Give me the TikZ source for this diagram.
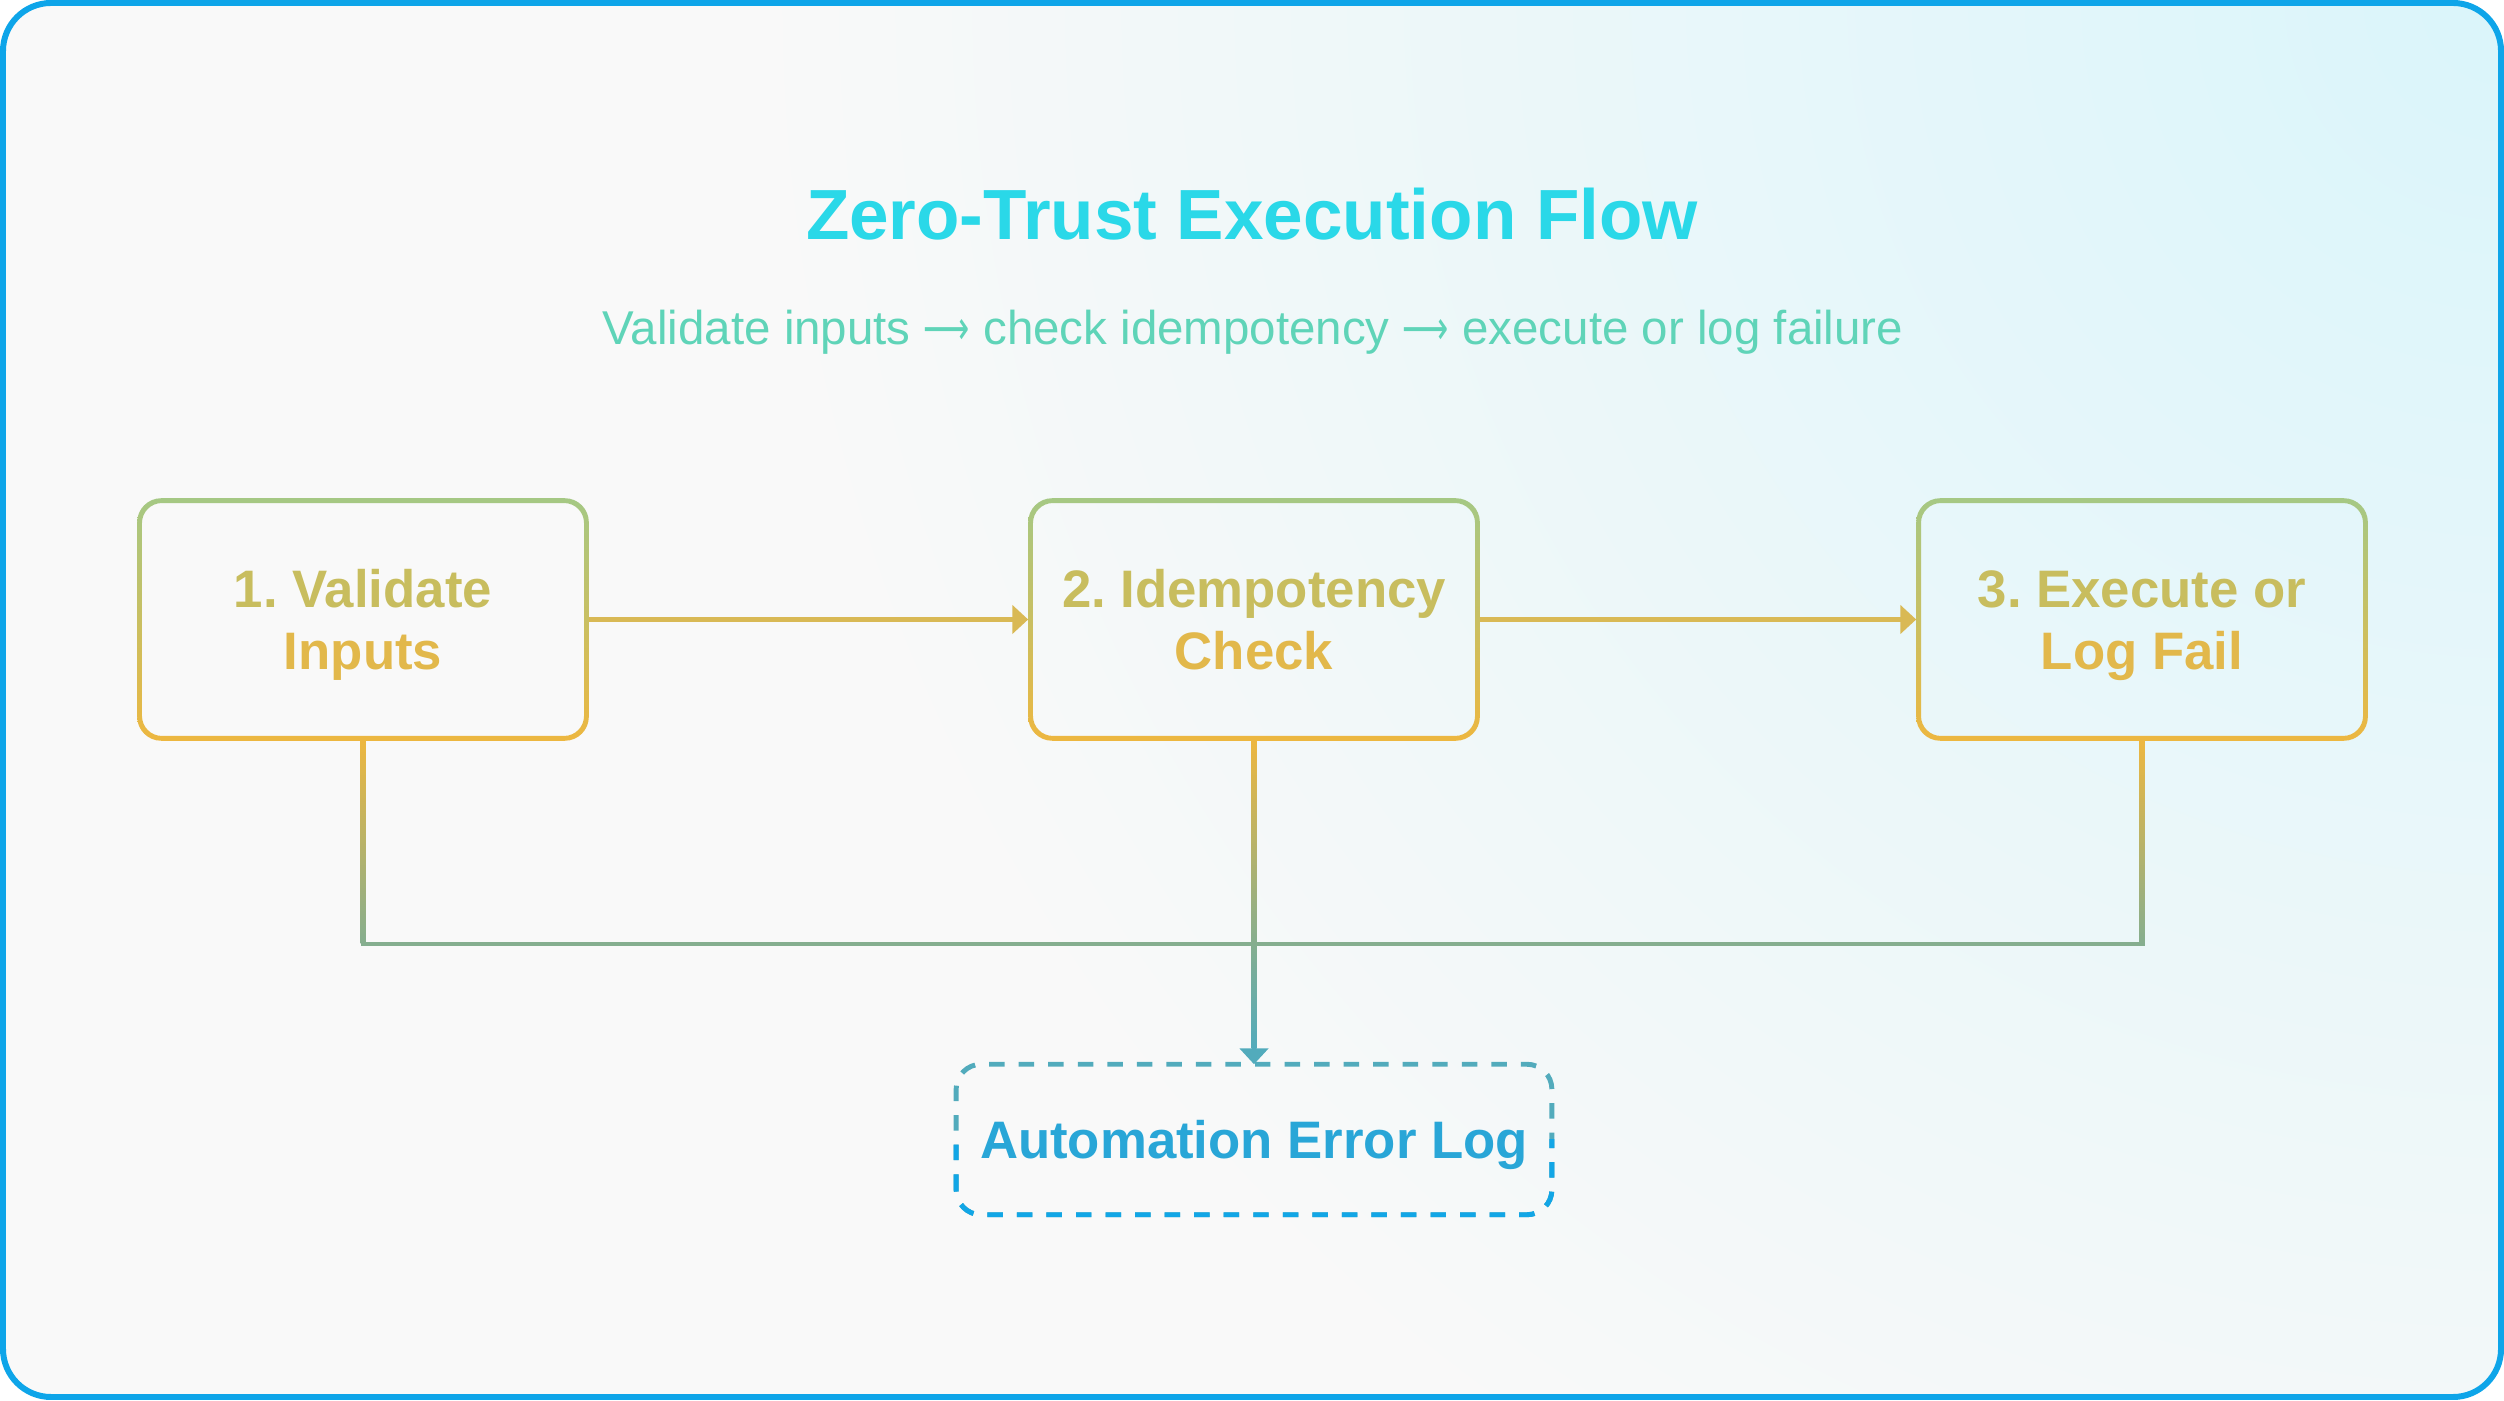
\documentclass[tikz,border=0pt]{standalone}
\usepackage{fontspec}
\setmainfont{Liberation Sans}
\newfontfamily\pfeilschrift{DejaVu Sans}
\usetikzlibrary{arrows.meta,calc}

\definecolor{rahmen}{HTML}{0EA5E9}
\definecolor{grund}{HTML}{F9F9F9}
\definecolor{schimmer}{HTML}{DAF5FA}
\definecolor{titel}{HTML}{2AD8E8}
\definecolor{untertitel}{HTML}{5FD4B8}
\definecolor{randoben}{HTML}{A5C884}
\definecolor{randunten}{HTML}{EDB740}
\definecolor{zeileoben}{HTML}{C8BD5E}
\definecolor{zeileunten}{HTML}{E2B84B}
\definecolor{pfeilgold}{HTML}{D9B955}
\definecolor{busgruen}{HTML}{85AE8F}
\definecolor{logoben}{HTML}{52ABBC}
\definecolor{logunten}{HTML}{12A6E6}
\definecolor{logtext}{HTML}{29A6D7}

\begin{document}
\begin{tikzpicture}[
        x=0.01cm, y=0.01cm,
        every node/.style={inner sep=0pt},
        schritt/.style={minimum width=4.5cm, minimum height=2.41cm, align=center,
                        font=\fontsize{15}{17.6}\selectfont\bfseries\frenchspacing},
        protokoll/.style={minimum width=5.94cm, minimum height=1.49cm,
                          text height=10.7pt, text depth=0pt,
                          font=\fontsize{15}{18}\selectfont\bfseries, text=logtext},
        logrand/.style={line width=1.4pt, rounded corners=0.25cm,
                        dash pattern=on 4.4pt off 4pt},
        pfeil/.style={draw=pfeilgold, line width=1.4pt,
                      -{Triangle[width=8pt,length=4.5pt]}},
        leitung/.style={draw=busgruen, line width=1.4pt}
    ]
        % Hintergrund und Rahmen
        \useasboundingbox (0,0) rectangle (2504,1400);
        \fill[white] (0,0) rectangle (2504,1400);
        \fill[grund, rounded corners=0.48cm] (3,3) rectangle (2501,1397);
        \begin{scope}
            \clip[rounded corners=0.48cm] (3,3) rectangle (2501,1397);
            \shade[inner color=schimmer, outer color=grund] (2504,1400) circle (1750);
        \end{scope}
        \draw[rahmen, line width=1.7pt, rounded corners=0.48cm] (3,3) rectangle (2501,1397);

        \node[anchor=base, text=titel, font=\fontsize{20.2}{24}\selectfont\bfseries]
            (kopf) at (1252,1160) {Zero-Trust Execution Flow};
        \node[anchor=base, text=untertitel, font=\fontsize{13.5}{16}\selectfont]
            (unterzeile) at (1253,1055)
            {Validate inputs \scalebox{0.68}[1]{\pfeilschrift ⟶} check idempotency \scalebox{0.68}[1]{\pfeilschrift ⟶} execute or log failure};

        \node[schritt] (s1) at (363,780.5)
            {\textcolor{zeileoben}{\rule{0pt}{15pt}1. Validate}\\\textcolor{zeileunten}{\rule[-4pt]{0pt}{4pt}Inputs}};
        \node[schritt] (s2) at (1254,780.5)
            {\textcolor{zeileoben}{\rule{0pt}{15pt}2. Idempotency}\\\textcolor{zeileunten}{\rule[-4pt]{0pt}{4pt}Check}};
        \node[schritt] (s3) at (2142,780.5)
            {\textcolor{zeileoben}{\rule{0pt}{15pt}3. Execute or}\\\textcolor{zeileunten}{\rule[-4pt]{0pt}{4pt}Log Fail}};
        \node[protokoll] (log) at (1254,260.5) {Automation Error Log};
        \coordinate (bus) at (1254,456);

        % Kästen mit Verlaufsrand
        \foreach \s in {s1,s2,s3}
            \shade[even odd rule, top color=randoben, bottom color=randunten, rounded corners=0.24cm]
                (\s.south west) rectangle (\s.north east)
                [rounded corners=0.2cm]
                ($(\s.south west)+(4.8,4.8)$) rectangle ($(\s.north east)-(4.8,4.8)$);

        % gestrichelter Rand, oben blaugrün, unten blau
        \draw[logrand, draw=logoben] (log.south west) rectangle (log.north east);
        \begin{scope}
            \clip ($(log.south west)-(20,20)$) rectangle ($(log.east)+(20,0)$);
            \draw[logrand, draw=logunten] (log.south west) rectangle (log.north east);
        \end{scope}

        \draw[pfeil] (s1.east) -- (s2.west);
        \draw[pfeil] (s2.east) -- (s3.west);
        \draw[leitung] (s1.south) |- (bus) -| (s3.south);
        \draw[leitung] (s2.south) -- (bus);
        \draw[line width=1.4pt, draw=logoben, -{Triangle[width=8pt,length=4.5pt]}] (bus) -- (log.north);

        % Verlauf auf den senkrechten Leitungen
        \foreach \s in {s1,s2,s3}
            \shade[top color=randunten, bottom color=busgruen]
                ($(\s.south)-(2.5,0)$) rectangle ($(\s.south |- bus)+(2.5,0)$);
        \shade[top color=busgruen, bottom color=logoben]
            ($(bus)-(2.5,0)$) rectangle ($(log.north)+(2.5,16)$);
    \end{tikzpicture}
\end{document}
